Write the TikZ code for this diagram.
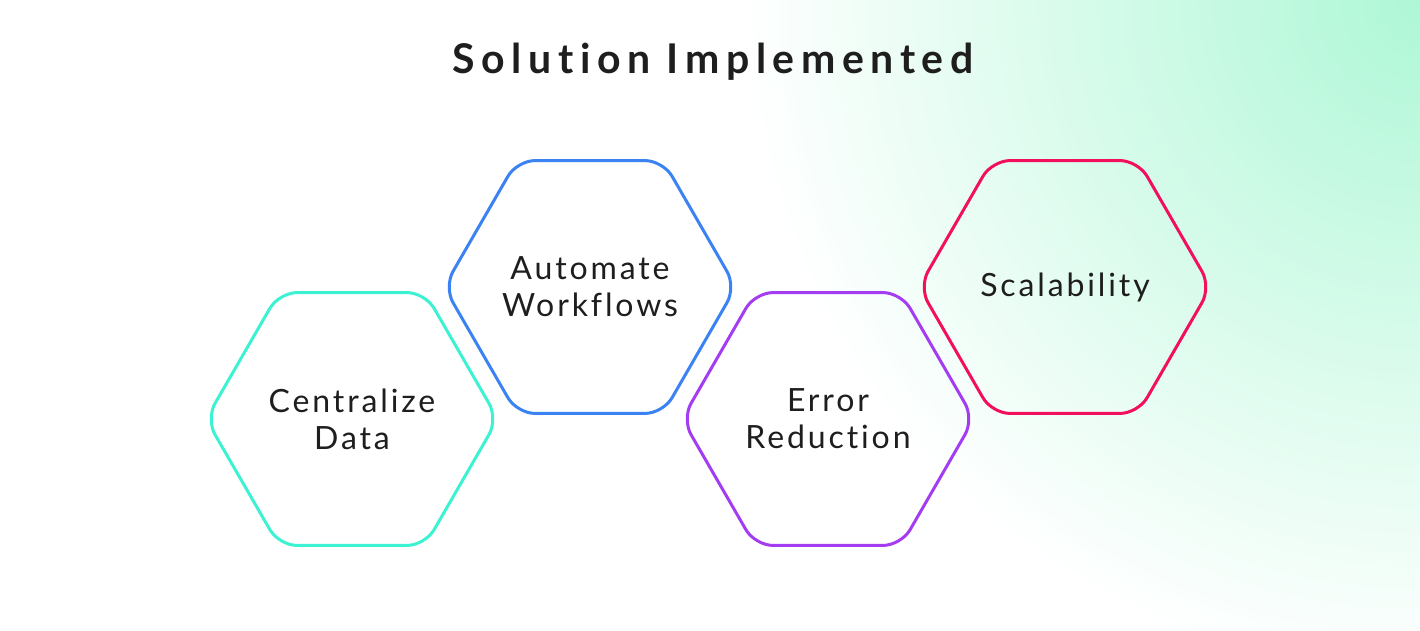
\documentclass[tikz,border=0pt]{standalone}
\usepackage{fontspec}
\setmainfont[LetterSpace=9, Ligatures=NoCommon]{Lato}
\newfontfamily\titlefont[LetterSpace=16, Ligatures=NoCommon]{Lato}
\usetikzlibrary{positioning,shapes.geometric}
\definecolor{tealline}{HTML}{3DF2D2}
\definecolor{blueline}{HTML}{3B82F2}
\definecolor{purpleline}{HTML}{A43CF2}
\definecolor{pinkline}{HTML}{F2105E}
\definecolor{inkgray}{HTML}{1E1E1E}
\definecolor{mint}{HTML}{AEF7D6}

\begin{document}
\begin{tikzpicture}[
  x=1pt, y=-1pt,
  font=\fontsize{32}{37}\selectfont,
  hexa/.style={draw, regular polygon, regular polygon sides=6, minimum size=292pt,
    inner sep=0pt, line width=3pt, rounded corners=18pt, align=center},
  heading/.style={font=\titlefont\fontsize{41}{46}\selectfont\bfseries, text=inkgray},
]
\useasboundingbox (0,0) rectangle (1420,630);

% Background glow in the upper right corner
\begin{scope}
  \clip (0,0) rectangle (1420,630);
  \fill[white] (0,0) rectangle (1420,630);
  \shade[inner color=mint, outer color=white] (1420,0) circle[radius=680pt];
\end{scope}

% Title
\node[heading] (title) at (713,62) {Solution Implemented};

% Hexagons, alternating low and high
\node[hexa, tealline] (central) at (352,419) {\textcolor{inkgray}{Centralize}\\\textcolor{inkgray}{Data}};
\node[hexa, blueline] (automate) at (590,287) {\textcolor{inkgray}{Automate}\\\textcolor{inkgray}{Workflows}};
\node[hexa, purpleline] (error) at (828,419) {\textcolor{inkgray}{Error}\\\textcolor{inkgray}{Reduction}};
\node[hexa, pinkline] (scale) at (1065,287) {\textcolor{inkgray}{Scalability}};

\end{tikzpicture}
\end{document}
